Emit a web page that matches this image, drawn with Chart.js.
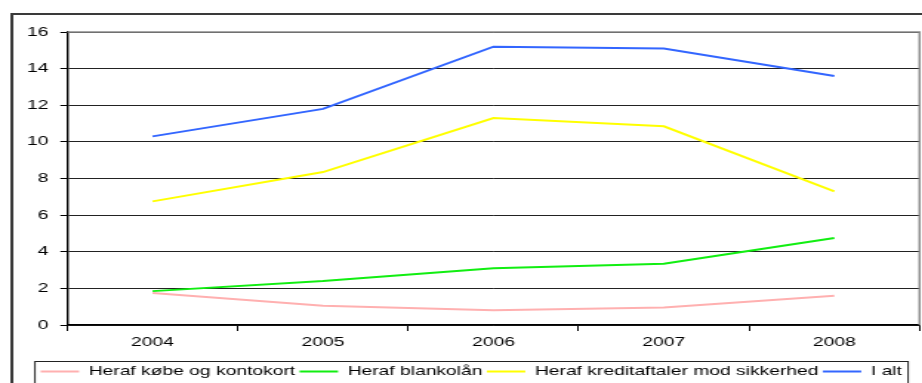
<!DOCTYPE html>
<html>
<head>
<meta charset="utf-8">
<script src="https://cdn.jsdelivr.net/npm/chart.js@4/dist/chart.umd.min.js"></script>
<style>
  html, body { margin: 0; padding: 0; background: #fff; overflow: hidden; }
  #wrap { width: 623px; height: 383px; transform: scaleX(1.48); transform-origin: 0 0; }
</style>
</head>
<body>
<div id="wrap"><canvas id="c" width="623" height="383"></canvas></div>
<script>
// Years on the category axis
const years = ['2004', '2005', '2006', '2007', '2008'];

// Series values (mia. kr.)
const kobeKontokort = [1.75, 1.05, 0.8, 0.95, 1.6];
const blankolan = [1.85, 2.4, 3.1, 3.35, 4.75];
const kreditaftaler = [6.75, 8.35, 11.3, 10.85, 7.3];
const iAlt = [10.3, 11.8, 15.2, 15.1, 13.6];

// Value axis tick labels
const yTicks = [0, 2, 4, 6, 8, 10, 12, 14, 16];

const seriesNames = ['Heraf købe og kontokort', 'Heraf blankolån', 'Heraf kreditaftaler mod sikkerhed', 'I alt'];
const seriesColors = ['#ffb0b0', '#11ee11', '#ffff00', '#3366ff'];
const seriesData = [kobeKontokort, blankolan, kreditaftaler, iAlt];

const FONT = { family: "'Liberation Sans', Arial, sans-serif", size: 13 };
const PAD_LEFT = 15.5;
const AXIS_X = 45.5;

// Outer chart frame, plot border and the legend box
const framePlugin = {
  id: 'frame',
  beforeDraw(chart) {
    const ctx = chart.ctx;
    ctx.save();
    ctx.strokeStyle = '#3a3a3a';
    ctx.lineWidth = 2;
    ctx.beginPath();
    ctx.moveTo(chart.width + 2, 14);
    ctx.lineTo(8, 14);
    ctx.lineTo(8, chart.height + 2);
    ctx.stroke();
    ctx.restore();
  },
  afterDraw(chart) {
    const ctx = chart.ctx;
    const a = chart.chartArea;
    ctx.save();
    ctx.strokeStyle = '#8a8a8a';
    ctx.lineWidth = 1.5;
    ctx.beginPath();
    ctx.moveTo(a.left, a.top);
    ctx.lineTo(a.right, a.top);
    ctx.lineTo(a.right, a.bottom);
    ctx.stroke();
    // legend frame
    ctx.strokeStyle = '#222';
    ctx.lineWidth = 1;
    ctx.strokeRect(23.6, 361.5, 590, 30);
    ctx.restore();
  }
};

new Chart(document.getElementById('c'), {
  type: 'line',
  data: {
    labels: years,
    datasets: seriesData.map((d, i) => ({
      label: seriesNames[i],
      data: d,
      borderColor: seriesColors[i],
      backgroundColor: seriesColors[i],
      borderWidth: 2,
      pointRadius: 0,
      tension: 0,
      fill: false
    }))
  },
  options: {
    responsive: false,
    animation: false,
    devicePixelRatio: 1,
    layout: { padding: { top: 32, left: PAD_LEFT, right: 1.7, bottom: 0 } },
    plugins: {
      tooltip: { enabled: false },
      legend: {
        position: 'bottom',
        maxHeight: 21,
        labels: {
          usePointStyle: true,
          pointStyle: 'line',
          pointStyleWidth: 26,
          padding: 3,
          color: '#000',
          font: FONT
        }
      }
    },
    scales: {
      x: {
        type: 'category',
        offset: true,
        afterFit(s) { s.height = 37; },
        grid: { offset: true, drawOnChartArea: false, drawTicks: true, tickLength: 6, tickColor: '#000', lineWidth: 1 },
        border: { color: '#000', width: 1.5 },
        ticks: { color: '#000', font: FONT, padding: 4, maxRotation: 0 }
      },
      y: {
        min: yTicks[0],
        max: yTicks[yTicks.length - 1],
        afterFit(s) { s.width = AXIS_X - PAD_LEFT; },
        afterBuildTicks(s) { s.ticks = yTicks.map(v => ({ value: v })); },
        grid: { color: '#222', lineWidth: 1, tickLength: 4.7, tickColor: '#000' },
        border: { color: '#000', width: 1.4 },
        ticks: { color: '#000', font: FONT, padding: 8 }
      }
    }
  },
  plugins: [framePlugin]
});
</script>
</body>
</html>
